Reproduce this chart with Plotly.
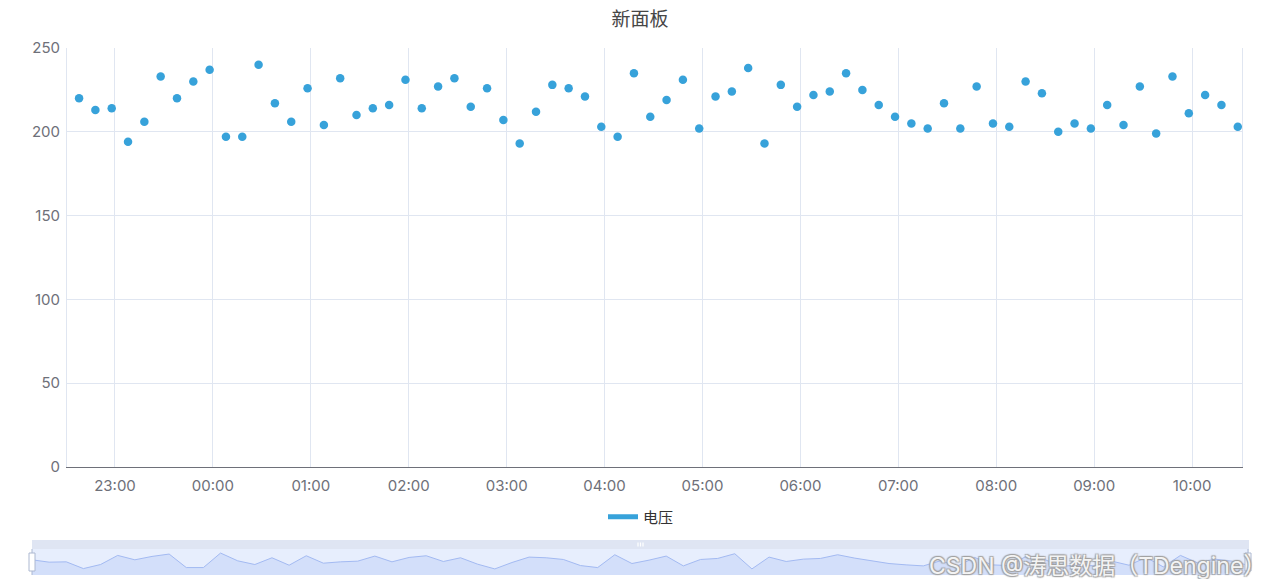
import plotly.graph_objects as go
import pandas as pd

# ---------------- data ----------------
chart_title = "新面板"
series_name = "电压"
start_time = "2023-01-01 22:38"
interval = "10min"
voltage = [220, 213, 214, 194, 206, 233, 220, 230, 237, 197,
           197, 240, 217, 206, 226, 204, 232, 210, 214, 216,
           231, 214, 227, 232, 215, 226, 207, 193, 212, 228,
           226, 221, 203, 197, 235, 209, 219, 231, 202, 221,
           224, 238, 193, 228, 215, 222, 224, 235, 225, 216,
           209, 205, 202, 217, 202, 227, 205, 203, 230, 223,
           200, 205, 202, 216, 204, 227, 199, 233, 211, 222,
           216, 203]
x_range = ["2023-01-01 22:30:36", "2023-01-02 10:30:36"]
y_ticks = [0, 50, 100, 150, 200, 250]
watermark = "CSDN @涛思数据（TDengine）"

times = pd.date_range(start_time, periods=len(voltage), freq=interval)

# ---------------- layout geometry (screen px; page body has 8px margin) ----------------
OFF = 8
W, H = 1264, 571
PAPER_L, PAPER_R, PAPER_T, PAPER_B = 32, 1249, 48, 575  # screen coords
ML = PAPER_L - OFF
MT = PAPER_T - OFF
MR = W - (PAPER_R - OFF)
MB = H - (PAPER_B - OFF)
PW = PAPER_R - PAPER_L
PH = PAPER_B - PAPER_T

color = "#37A2DA"
grid = "#E0E6F1"
label_col = "#6E7079"
font_fam = "Inter, 'Noto Sans CJK SC', sans-serif"


def px_x(p):
    return (p - PAPER_L) / PW


def px_y(p):
    return (PAPER_B - p) / PH


fig = go.Figure()

fig.add_trace(go.Scatter(
    x=times, y=voltage, mode="markers",
    marker=dict(color=color, size=8.5),
    name=series_name, showlegend=False,
    xaxis="x", yaxis="y",
))
# legend entry (bar-like icon)
fig.add_trace(go.Scatter(
    x=[None], y=[None], mode="lines",
    line=dict(color=color, width=5),
    name=series_name, showlegend=True,
    xaxis="x", yaxis="y",
))
# data-zoom preview area
fig.add_trace(go.Scatter(
    x=times, y=voltage, mode="lines",
    line=dict(color="#A3BAF2", width=1),
    fill="tozeroy", fillcolor="#D3DFFA",
    showlegend=False, hoverinfo="skip",
    xaxis="x2", yaxis="y2",
))

shapes = [
    # slider window background
    dict(type="rect", xref="paper", yref="paper", x0=0, x1=1,
         y0=0, y1=px_y(549), fillcolor="#E7EEFD", line=dict(width=0), layer="below"),
    # slider top move bar
    dict(type="rect", xref="paper", yref="paper", x0=0, x1=1,
         y0=px_y(549), y1=px_y(540), fillcolor="#DFE5F3", line=dict(width=0), layer="below"),
]
# handles
for hx in (32, 1248):
    shapes.append(dict(type="line", xref="paper", yref="paper",
                       x0=px_x(hx), x1=px_x(hx), y0=px_y(575), y1=px_y(549),
                       line=dict(color="#ACB8D1", width=1)))
    shapes.append(dict(type="rect", xref="paper", yref="paper",
                       x0=px_x(hx - 3), x1=px_x(hx + 3), y0=px_y(571), y1=px_y(553),
                       fillcolor="white", line=dict(color="#ACB8D1", width=1)))
# grip marks at top center
for gx in (638, 640.5, 643):
    shapes.append(dict(type="line", xref="paper", yref="paper",
                       x0=px_x(gx), x1=px_x(gx), y0=px_y(546.5), y1=px_y(542.5),
                       line=dict(color="white", width=1.2)))

fig.update_layout(
    width=W, height=H,
    margin=dict(l=ML, r=MR, t=MT, b=MB, autoexpand=False),
    paper_bgcolor="white", plot_bgcolor="white",
    font=dict(family=font_fam, color=label_col, size=15),
    title=dict(text=chart_title, x=(640 - OFF) / W, xref="container", xanchor="center",
               y=1 - (19 - OFF) / H, yref="container", yanchor="middle",
               font=dict(size=19, color="#464646", family=font_fam)),
    showlegend=True,
    legend=dict(orientation="h", x=px_x(641), xanchor="center",
                y=px_y(517), yanchor="middle",
                font=dict(size=15, color="#333333"),
                itemwidth=30, bgcolor="rgba(0,0,0,0)"),
    xaxis=dict(
        domain=[px_x(67), px_x(1242)], range=x_range, type="date",
        anchor="y", dtick=3600000, tick0="2023-01-01 23:00",
        tickformat="%H:%M", showgrid=True, gridcolor=grid, gridwidth=1,
        showline=True, linecolor=label_col, linewidth=1, mirror=False,
        ticks="", ticklabelstandoff=5, zeroline=False, automargin=False,
        tickfont=dict(size=15, color=label_col),
    ),
    yaxis=dict(
        domain=[px_y(467), 1], range=[0, 250], anchor="x",
        tickvals=y_ticks, showgrid=True, gridcolor=grid, gridwidth=1,
        showline=True, linecolor=grid, linewidth=1, mirror=True,
        zeroline=False, ticks="", ticklabelstandoff=3, automargin=False,
        tickfont=dict(size=15, color=label_col),
    ),
    xaxis2=dict(
        domain=[0, 1], range=[times[0], times[-1]], type="date", anchor="y2",
        showgrid=False, showticklabels=False, showline=False, zeroline=False,
        automargin=False,
    ),
    yaxis2=dict(
        domain=[0, px_y(549)], range=[175, 252], anchor="x2",
        showgrid=False, showticklabels=False, showline=False, zeroline=False,
        automargin=False,
    ),
    shapes=shapes,
    annotations=[dict(
        text=watermark, xref="paper", yref="paper",
        x=px_x(1268), y=px_y(566), xanchor="right", yanchor="middle",
        showarrow=False,
        font=dict(size=23, color="rgba(255,255,255,0.9)", family=font_fam,
                  shadow="1px 1px 1px #a0a0a0, -1px -1px 1px #a0a0a0, 1px -1px 1px #a0a0a0, -1px 1px 1px #a0a0a0"),
    )],
)

fig.write_html("out.html")
